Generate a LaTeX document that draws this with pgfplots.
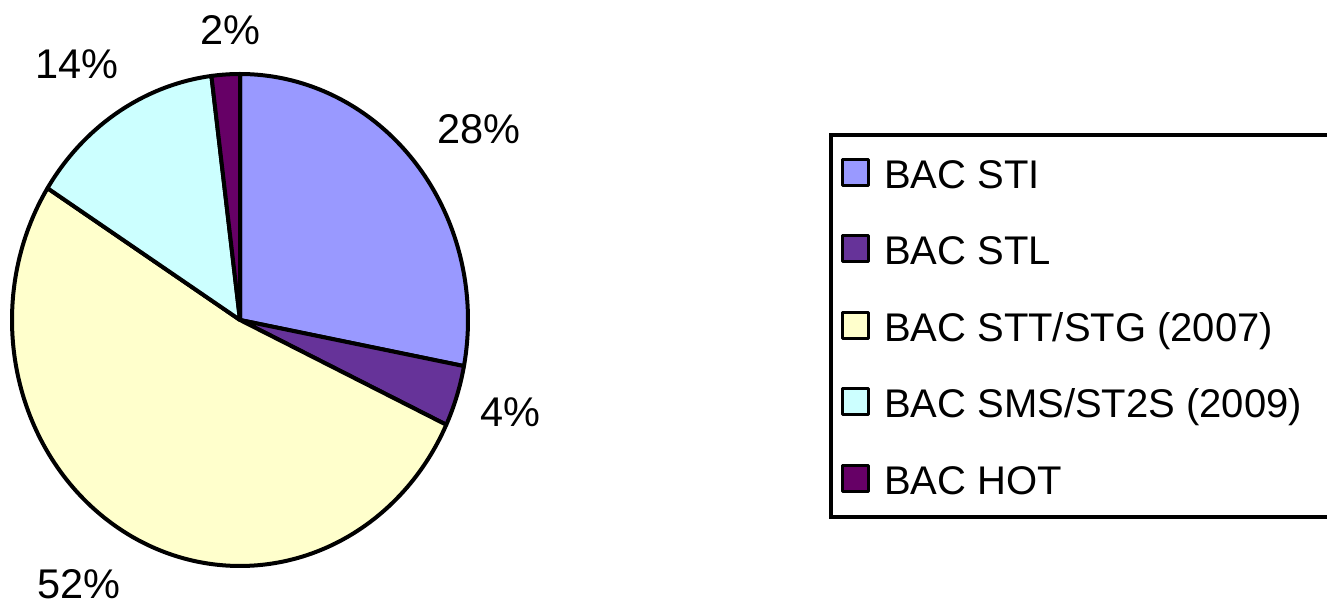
\documentclass[border=0pt]{standalone}
\usepackage{pgfplots}
\pgfplotsset{compat=1.18}
\usepackage{fontspec}
\setmainfont{Liberation Sans}
\definecolor{cSTI}{HTML}{9999FF}
\definecolor{cSTL}{HTML}{663399}
\definecolor{cSTT}{HTML}{FFFFCC}
\definecolor{cSMS}{HTML}{CCFFFF}
\definecolor{cHOT}{HTML}{660066}
% shares (%)
\def\vSTI{28}\def\vSTL{4}\def\vSTT{52}\def\vSMS{14}\def\vHOT{2}
\pgfmathsetmacro\aA{90}
\pgfmathsetmacro\aB{\aA-3.6*\vSTI}
\pgfmathsetmacro\aC{\aB-3.6*\vSTL}
\pgfmathsetmacro\aD{\aC-3.6*\vSTT}
\pgfmathsetmacro\aE{\aD-3.6*\vSMS}
\pgfmathsetmacro\aF{\aE-3.6*\vHOT}
\def\cx{240}\def\cy{284}\def\rx{228}\def\ry{246}
\begin{document}
\begin{tikzpicture}
\begin{axis}[
  width=663.5bp, height=302bp, scale only axis,
  xmin=0,xmax=1327,ymin=0,ymax=604,
  hide axis, clip=false,
  legend cell align=left,
  legend image code/.code={\draw[#1,line width=1.5bp] (0bp,-6bp) rectangle (13bp,7bp);},
  legend style={at={(axis cs:829,471)}, anchor=north west, draw=black, line width=2bp,
    font=\fontsize{20bp}{24bp}\selectfont, inner xsep=5bp, inner ysep=11.5bp,
    row sep=23bp, column sep=7bp,
    nodes={inner sep=0pt, text height=15bp, text depth=0pt}},
  every axis plot/.append style={draw=black, line width=2bp, line join=round},
]
\addplot[fill=cSTI, domain=\aB:\aA, samples=100, variable=\t] ({\cx+\rx*cos(\t)},{\cy+\ry*sin(\t)}) -- (axis cs:\cx,\cy) -- cycle;
\addlegendentry{BAC STI}
\addplot[fill=cSTL, domain=\aC:\aB, samples=30, variable=\t] ({\cx+\rx*cos(\t)},{\cy+\ry*sin(\t)}) -- (axis cs:\cx,\cy) -- cycle;
\addlegendentry{BAC STL}
\addplot[fill=cSTT, domain=\aD:\aC, samples=150, variable=\t] ({\cx+\rx*cos(\t)},{\cy+\ry*sin(\t)}) -- (axis cs:\cx,\cy) -- cycle;
\addlegendentry{BAC STT/STG (2007)}
\addplot[fill=cSMS, domain=\aE:\aD, samples=60, variable=\t] ({\cx+\rx*cos(\t)},{\cy+\ry*sin(\t)}) -- (axis cs:\cx,\cy) -- cycle;
\addlegendentry{BAC SMS/ST2S (2009)\rule{40bp}{0pt}}
\addplot[fill=cHOT, domain=\aF:\aE, samples=20, variable=\t] ({\cx+\rx*cos(\t)},{\cy+\ry*sin(\t)}) -- (axis cs:\cx,\cy) -- cycle;
\addlegendentry{BAC HOT}
\begin{scope}[every node/.style={font=\fontsize{20.75bp}{24bp}\selectfont, inner sep=0pt}]
\node at (axis cs:230,574) {2\%};
\node at (axis cs:77,540) {14\%};
\node at (axis cs:479,475) {28\%};
\node at (axis cs:510,192) {4\%};
\node at (axis cs:79,20) {52\%};
\end{scope}
\coordinate (BL) at (axis cs:0,0);
\coordinate (TR) at (axis cs:1327,604);
\end{axis}
\pgfresetboundingbox
\path[use as bounding box] (BL) rectangle (TR);
\end{tikzpicture}
\end{document}
